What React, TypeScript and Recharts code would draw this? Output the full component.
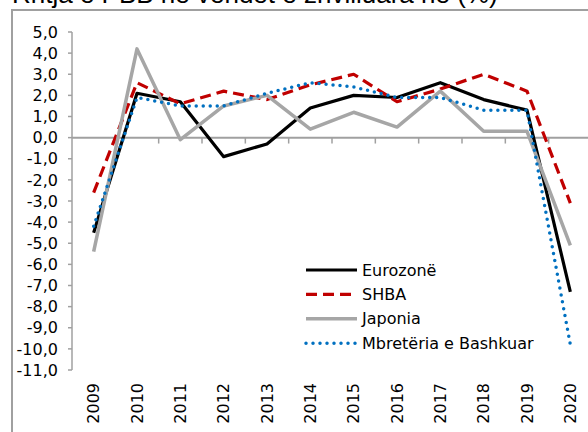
import React from 'react'
import {
  LineChart,
  Line,
  XAxis,
  YAxis,
  ReferenceLine,
} from 'recharts'

const years = [2009, 2010, 2011, 2012, 2013, 2014, 2015, 2016, 2017, 2018, 2019, 2020]
const eurozone = [-4.5, 2.1, 1.7, -0.9, -0.3, 1.4, 2.0, 1.9, 2.6, 1.8, 1.3, -7.3]
const shba = [-2.6, 2.6, 1.6, 2.2, 1.8, 2.5, 3.0, 1.7, 2.3, 3.0, 2.2, -3.1]
const japonia = [-5.4, 4.2, -0.1, 1.5, 2.0, 0.4, 1.2, 0.5, 2.2, 0.3, 0.3, -5.1]
const uk = [-4.2, 1.9, 1.5, 1.5, 2.1, 2.6, 2.4, 1.9, 1.9, 1.3, 1.3, -9.8]
const yTicks = [-11, -10, -9, -8, -7, -6, -5, -4, -3, -2, -1, 0, 1, 2, 3, 4, 5]

const seriesKeys = ['eurozone', 'shba', 'japonia', 'uk']
const seriesNames = ['Eurozonë', 'SHBA', 'Japonia', 'Mbretëria e Bashkuar']

const title = 'Rritja e PBB në vendet e zhvilluara në (%)'

const data = years.map((year, i) => ({
  year,
  eurozone: eurozone[i],
  shba: shba[i],
  japonia: japonia[i],
  uk: uk[i],
}))

// boundaries between the year categories, drawn as small ticks under the zero line
const boundaries = years.slice(0, -1).map((y) => y + 0.5)

const FONT = '"DejaVu Sans", Verdana, sans-serif'
const AXIS_GRAY = '#a0a0a0'

const seriesStyle: Record<string, any> = {
  eurozone: { stroke: '#000000', strokeWidth: 3.2 },
  shba: { stroke: '#c00000', strokeWidth: 3.2, strokeDasharray: '11 6' },
  japonia: { stroke: '#a6a6a6', strokeWidth: 3.5 },
  uk: { stroke: '#0070c0', strokeWidth: 3.5, strokeDasharray: '0 7', strokeLinecap: 'round' },
}

const YearTick = ({ x, y, payload }: any) => (
  <text
    transform={`translate(${x},${y + 13}) rotate(-90)`}
    textAnchor="end"
    dominantBaseline="central"
    fontSize={16}
    fontFamily={FONT}
    fill="#000"
  >
    {payload.value}
  </text>
)

const ChartLegend = () => (
  <svg width={230} height={100} style={{ position: 'absolute', left: 304, top: 258 }}>
    {seriesKeys.map((key, i) => {
      const cy = 12 + i * 24.4
      return (
        <g key={key}>
          <line x1={2} x2={53} y1={cy} y2={cy} {...seriesStyle[key]} />
          <text x={58} y={cy} dominantBaseline="central" fontSize={16} fontFamily={FONT} fill="#000">
            {seriesNames[i]}
          </text>
        </g>
      )
    })}
  </svg>
)

export default function App() {
  return (
    <div
      style={{
        position: 'fixed',
        left: 0,
        top: 0,
        width: 588,
        height: 432,
        overflow: 'hidden',
        background: '#fff',
      }}
    >
      <div
        style={{
          position: 'absolute',
          left: 12,
          top: -19,
          fontFamily: '"Liberation Sans", Arial, sans-serif',
          fontSize: 26,
          lineHeight: '26px',
          whiteSpace: 'nowrap',
          color: '#000',
        }}
      >
        {title}
      </div>
      <div
        style={{
          position: 'absolute',
          left: 11,
          top: 9,
          width: 700,
          height: 600,
          borderTop: `2px solid ${AXIS_GRAY}`,
          borderLeft: `2px solid ${AXIS_GRAY}`,
        }}
      />
      <div style={{ position: 'absolute', left: 0, top: 0 }}>
        <LineChart
          width={620}
          height={432}
          data={data}
          margin={{ top: 32, right: 28, bottom: 0, left: 0 }}
        >
          <XAxis
            dataKey="year"
            type="number"
            domain={[2008.5, 2020.5]}
            ticks={years}
            interval={0}
            axisLine={false}
            tickLine={false}
            tickSize={0}
            tickMargin={0}
            height={62}
            tick={<YearTick />}
          />
          <YAxis
            width={72}
            domain={[-11, 5]}
            ticks={yTicks}
            interval={0}
            axisLine={{ stroke: AXIS_GRAY, strokeWidth: 1.5 }}
            tickLine={{ stroke: AXIS_GRAY, strokeWidth: 1.5 }}
            tickSize={4}
            tickMargin={10}
            tickFormatter={(v: number) => v.toFixed(1).replace('.', ',')}
            tick={{ fill: '#000', fontSize: 16, fontFamily: FONT }}
          />
          <ReferenceLine y={0} stroke={AXIS_GRAY} strokeWidth={2} />
          {boundaries.map((b) => (
            <ReferenceLine
              key={b}
              segment={[
                { x: b, y: 0 },
                { x: b, y: -0.28 },
              ]}
              stroke={AXIS_GRAY}
              strokeWidth={1.5}
            />
          ))}
          {seriesKeys.map((key, i) => (
            <Line
              key={key}
              dataKey={key}
              name={seriesNames[i]}
              type="linear"
              dot={false}
              activeDot={false}
              isAnimationActive={false}
              strokeLinejoin="round"
              {...seriesStyle[key]}
            />
          ))}
        </LineChart>
      </div>
      <ChartLegend />
    </div>
  )
}
